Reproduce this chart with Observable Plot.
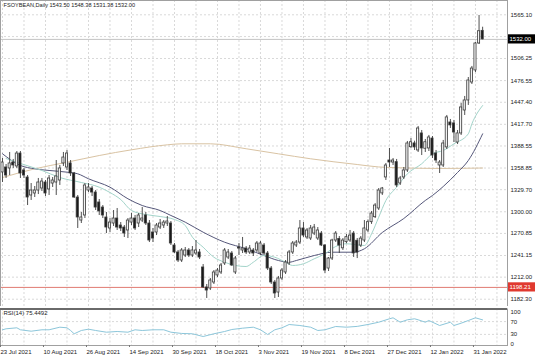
<!DOCTYPE html>
<html><head><meta charset="utf-8">
<script src="https://cdn.jsdelivr.net/npm/d3@7"></script>
<script src="https://cdn.jsdelivr.net/npm/@observablehq/plot@0.6"></script>
<style>
body{margin:0;background:#fff;}
#wrap{position:relative;width:536px;height:357px;overflow:hidden;background:#fff;}
#main{position:absolute;left:0;top:0;}
#rsi{position:absolute;left:0;top:306px;}
</style></head><body><div id="wrap"><div id="main"></div><div id="rsi"></div></div>
<script>
const titleText = "FSOYBEAN,Daily 1543.50 1548.38 1531.38 1532.00";
const rsiTitle = "RSI(14) 75.4492";

const open = [
1352.9,1359.6,1358.3,1366.3,1361.0,1378.4,1355.6,1346.1,1321.9,1324.6,
1328.6,1331.3,1339.4,1330.0,1338.0,1339.4,1342.1,1365.0,1359.6,1365.0,
1351.5,1319.2,1288.2,1295.0,1328.6,1331.3,1325.9,1312.5,1305.7,1292.3,
1277.5,1284.2,1290.9,1281.5,1278.8,1274.8,1285.5,1290.9,1284.2,1288.2,
1295.0,1284.2,1272.1,1272.1,1278.8,1281.5,1284.2,
1284.2,1254.6,1245.2,1234.4,1241.1,1247.9,1241.1,1243.8,1245.2,1225.0,
1198.1,1196.7,1204.8,1214.3,1218.3,1230.4,1238.4,1243.8,1218.3,1251.9,
1247.9,1250.5,1245.2,1247.9,1247.9,1243.8,1254.6,1243.8,1223.6,1204.8,
1191.3,1210.2,1218.3,1230.4,1245.2,1254.6,1258.6,1277.5,1265.4,1264.0,
1270.7,1264.0,1270.7,1254.6,1223.6,1237.1,
1261.3,1263.5,1250.8,1259.1,1261.3,1270.7,1261.0,1254.5,1261.3,1274.8,
1286.0,1292.7,1304.4,1324.7,1346.2,1369.0,1366.3,1366.8,1338.1,1346.2,
1355.6,1386.9,1392.0,1382.5,1405.4,1384.8,1385.2,1398.6,1378.4,1362.3,
1362.3,1386.6,1420.2,1418.9,1393.2,1405.4,1436.3,1449.8,1474.0,1490.2,
1526.5,1543.5];
const high = [
1371.7,1363.6,1379.8,1370.4,1381.1,1381.1,1358.3,1348.8,1338.0,1334.0,
1344.8,1344.8,1342.1,1348.8,1346.1,1369.0,1362.3,1379.8,1382.5,1369.0,
1352.9,1321.9,1299.0,1338.0,1338.0,1334.0,1328.6,1316.5,1308.4,1299.0,
1290.9,1301.7,1304.4,1285.5,1281.5,1290.9,1297.7,1295.0,1297.7,1305.7,
1299.0,1288.2,1277.5,1284.2,1289.6,1288.2,1293.6,
1286.9,1257.3,1247.9,1250.5,1251.9,1250.5,1253.2,1261.3,1249.2,1229.0,
1202.1,1210.2,1220.9,1223.6,1230.4,1250.5,1249.2,1246.5,1239.8,1257.3,
1265.4,1253.2,1254.6,1250.5,1260.0,1260.0,1257.3,1246.5,1226.3,1207.5,
1212.9,1223.6,1234.4,1247.9,1260.0,1261.3,1288.2,1285.5,1277.5,1281.5,
1282.9,1278.8,1273.4,1255.9,1238.4,1263.0,
1273.4,1266.7,1264.0,1269.4,1274.8,1273.4,1264.0,1266.7,1288.2,1289.0,
1300.4,1311.0,1331.3,1332.7,1365.0,1385.2,1371.7,1370.4,1347.5,1359.6,
1394.6,1398.6,1395.0,1414.8,1409.4,1397.3,1402.7,1401.3,1382.5,1369.0,
1396.0,1429.6,1424.2,1422.9,1409.4,1445.8,1455.2,1480.7,1495.6,1527.8,
1564.2,1548.4];
const low = [
1339.4,1344.8,1348.8,1358.3,1358.3,1344.8,1344.8,1308.4,1315.2,1319.2,
1323.2,1327.3,1320.5,1321.9,1332.7,1321.9,1335.4,1361.0,1355.6,1347.5,
1317.9,1277.5,1284.2,1290.9,1325.9,1320.5,1301.7,1295.0,1290.9,1270.7,
1272.1,1280.2,1274.8,1273.4,1265.4,1264.0,1281.5,1274.8,1278.8,1285.5,
1281.5,1258.6,1258.6,1268.0,1276.1,1277.5,1280.2,
1254.6,1243.8,1231.7,1231.7,1238.4,1238.4,1238.4,1241.1,1235.7,1196.7,
1183.3,1194.0,1202.1,1211.5,1215.6,1227.7,1235.7,1226.3,1215.6,1241.1,
1243.8,1242.5,1242.5,1239.8,1245.2,1241.1,1241.1,1220.9,1202.1,1183.3,
1184.6,1207.5,1215.6,1227.7,1242.5,1251.9,1255.9,1265.4,1262.7,1261.3,
1268.0,1261.3,1253.2,1217.0,1219.6,1234.4,
1258.6,1243.9,1247.9,1256.9,1258.6,1238.5,1237.0,1251.9,1258.6,1272.0,
1283.0,1290.9,1301.7,1322.0,1342.1,1359.6,1362.3,1332.7,1335.4,1343.4,
1352.9,1385.2,1382.5,1379.8,1375.7,1379.8,1381.1,1371.7,1365.0,1351.5,
1359.6,1383.8,1412.1,1393.2,1390.5,1402.7,1429.6,1443.1,1471.3,1487.4,
1525.1,1531.4];
const close = [
1366.3,1348.8,1365.0,1362.3,1378.4,1351.5,1348.8,1319.2,1328.6,1328.6,
1339.4,1340.7,1324.6,1344.8,1342.1,1347.5,1358.3,1373.0,1378.4,1351.5,
1319.2,1292.3,1292.3,1335.4,1332.7,1325.9,1305.7,1300.4,1295.0,1278.8,
1285.5,1290.9,1278.8,1277.5,1270.7,1288.2,1290.9,1277.5,1295.0,1290.9,
1284.2,1261.3,1264.0,1281.5,1284.2,1285.5,1286.9,
1257.3,1245.2,1234.4,1247.9,1247.9,1241.1,1247.9,1247.9,1238.4,1198.1,
1194.0,1207.5,1218.3,1220.9,1227.7,1247.9,1245.2,1227.7,1237.1,1250.5,
1250.5,1245.2,1250.5,1243.8,1257.3,1257.3,1243.8,1223.6,1204.8,1190.0,
1210.2,1220.9,1231.7,1245.2,1257.3,1258.6,1277.5,1268.0,1274.8,1277.5,
1278.8,1274.8,1254.6,1220.9,1237.1,1261.3,
1270.7,1254.5,1261.3,1265.8,1268.0,1243.9,1245.0,1263.9,1277.5,1286.0,
1297.6,1308.4,1328.6,1331.3,1362.3,1366.3,1369.0,1335.4,1344.8,1355.6,
1391.9,1393.6,1386.6,1412.1,1385.2,1393.6,1400.0,1375.7,1369.0,1366.3,
1391.9,1427.0,1416.2,1406.7,1405.4,1440.4,1449.8,1476.7,1492.8,1526.5,
1543.0,1532.0];

// moving averages (bar index, price)
const maLongBars = [0,9,18,27,36,46,50,58,68,77,86,99,105,111,122,134];
const maLongVals = [1346.1,1357.8,1366.7,1375.7,1383.4,1390.1,1391.5,1391.5,1384.8,1378.0,1371.3,1363.6,1360.3,1359.2,1358.3,1358.9];
const maSlowBars = [0,5,9,13,18,21,24,30,35,39,44,47,51,56,62,68,73,77,80,82,87,92,98,101,106,112,118,120,123,127,130,134];
const maSlowVals = [1378.0,1362.3,1357.8,1355.6,1353.3,1351.1,1344.4,1333.1,1317.5,1308.4,1301.7,1295.0,1286.0,1272.5,1259.0,1250.2,1241.1,1234.4,1232.1,1234.4,1241.1,1245.6,1245.6,1250.2,1272.1,1290.9,1315.2,1321.9,1334.0,1352.9,1369.0,1404.9];
const maFastBars = [1,5,11,16,22,27,30,33,36,40,44,48,51,53,56,59,62,65,68,70,73,76,79,81,84,87,90,93,96,101,103,105,107,110,113,117,120,123,126,130,131,134];
const maFastVals = [1371.7,1365.0,1355.6,1346.1,1339.4,1333.1,1325.9,1316.5,1301.7,1296.3,1293.6,1289.6,1281.5,1265.8,1252.3,1238.8,1232.1,1227.7,1226.3,1232.1,1241.1,1238.8,1232.1,1227.7,1230.0,1236.7,1243.5,1253.3,1256.9,1254.6,1270.3,1292.7,1315.2,1333.1,1351.1,1364.6,1378.0,1382.5,1391.5,1404.9,1418.3,1443.0];

const rsiBars = [0,1,4,5,8,11,13,16,18,19,20,22,24,26,29,32,35,37,39,42,45,47,50,53,56,59,62,64,67,70,72,74,76,78,80,83,86,88,90,93,96,99,102,105,108,109,111,113,115,116,118,119,122,125,126,128,130,132,134];
const rsiVals = [44.4,47.5,50.6,44.4,40.0,44.4,44.4,52.5,50.6,42.2,31.9,42.2,46.3,42.2,36.9,39.1,36.9,44.4,42.2,44.4,44.4,36.9,33.0,31.9,23.4,31.9,39.1,45.3,49.4,52.5,44.4,29.7,44.4,50.6,60.9,57.8,52.5,42.2,44.4,54.7,52.5,55.0,60.9,68.1,78.8,81.9,68.1,75.6,78.8,75.6,68.1,73.4,57.8,68.1,57.8,65.0,73.4,81.9,75.4];

const dateTickBars = [0,12,24,36,48,60,72,84,96,108,120,132];
const dateTickLabels = ["23 Jul 2021","10 Aug 2021","26 Aug 2021","14 Sep 2021","30 Sep 2021","18 Oct 2021","3 Nov 2021","19 Nov 2021","8 Dec 2021","27 Dec 2021","12 Jan 2022","31 Jan 2022"];
const priceGrid = [1565.10,1535.80,1506.25,1476.55,1447.40,1417.70,1388.55,1358.85,1329.70,1300.00,1270.85,1241.15,1212.00,1182.30];
const priceLabels = [1565.10,1506.25,1476.55,1447.40,1417.70,1388.55,1358.85,1329.70,1300.00,1270.85,1241.15,1212.00,1182.30];
const rsiTicks = [0,30,70,100];
const rsiLevels = [30,70];
const lastPrice = 1532.00;
const levelPrice = 1198.21;

const FONT = '"Liberation Sans", Arial, sans-serif';
const bars = open.map((o,i)=>({i, o, h: high[i], l: low[i], c: close[i], up: close[i] >= o}));
const pts = (xs, ys) => xs.map((x,k)=>({x, y: ys[k]}));
const xDomain = [-0.558, 140.94];
const barPx = 507/(xDomain[1]-xDomain[0]);
const yDomain = [1172.5, 1584.35];
const pricePx = 306/(yDomain[1]-yDomain[0]);
const rsiDomain = [-4.7, 109.4];
const gridBars = d3.range(0, 141, 6);
const grid = {stroke:"#d9d9d9", strokeDasharray:"2,2", strokeWidth:1};
const boxX1 = xDomain[1], boxX2 = xDomain[1] + 28/barPx, boxTextX = xDomain[1] + 2/barPx;
const boxH = 4.6/pricePx;

const main = Plot.plot({
  width:536, height:306, marginLeft:0, marginRight:29, marginTop:0, marginBottom:0,
  x:{type:"linear", domain:xDomain, axis:null},
  y:{domain:yDomain},
  style:{fontFamily:FONT, background:"transparent", color:"#111"},
  marks:[
    Plot.ruleX(gridBars, {x:d=>d, ...grid}),
    Plot.ruleY(priceGrid, {y:d=>d, ...grid}),
    Plot.ruleY([lastPrice], {y:d=>d, stroke:"#c4c4c4"}),
    Plot.ruleY([levelPrice], {y:d=>d, stroke:"#e07a72"}),
    Plot.line(pts(maLongBars, maLongVals), {x:"x", y:"y", stroke:"#d9c3a3", strokeWidth:1, curve:"monotone-x"}),
    Plot.line(pts(maSlowBars, maSlowVals), {x:"x", y:"y", stroke:"#55577a", strokeWidth:1, curve:"monotone-x"}),
    Plot.line(pts(maFastBars, maFastVals), {x:"x", y:"y", stroke:"#a3d4ca", strokeWidth:1, curve:"monotone-x"}),
    Plot.ruleX(bars, {x:"i", y1:"l", y2:"h", stroke:"#3c3c3c", strokeWidth:0.9}),
    Plot.rect(bars, {x1:d=>d.i-0.3, x2:d=>d.i+0.3, y1:"o", y2:"c", fill:d=>d.up?"#f4f4f4":"#1a1a1a", stroke:"#3c3c3c", strokeWidth:0.8}),
    Plot.axisY(priceLabels, {anchor:"right", label:null, tickSize:0, tickPadding:3, tickFormat:d=>d.toFixed(2), fontSize:6, fill:"#222"}),
    Plot.rect([lastPrice], {x1:boxX1, x2:boxX2, y1:d=>d-boxH, y2:d=>d+boxH, fill:"#000"}),
    Plot.text([lastPrice], {x:boxTextX, y:d=>d, text:d=>d.toFixed(2), fill:"#fff", textAnchor:"start", fontSize:6}),
    Plot.rect([levelPrice], {x1:boxX1, x2:boxX2, y1:d=>d-boxH, y2:d=>d+boxH, fill:"#e0392f"}),
    Plot.text([levelPrice], {x:boxTextX, y:d=>d, text:d=>d.toFixed(2), fill:"#fff", textAnchor:"start", fontSize:6}),
    Plot.frame({stroke:"#a0a0a0"}),
    Plot.text([titleText], {frameAnchor:"top-left", dx:3, dy:3, lineAnchor:"top", textAnchor:"start", fontSize:5.6, fill:"#222", text:d=>d})
  ]
});
document.getElementById("main").appendChild(main);

const rsiPlot = Plot.plot({
  width:536, height:51, marginLeft:0, marginRight:29, marginTop:2.5, marginBottom:12,
  x:{type:"linear", domain:xDomain, label:null},
  y:{domain:rsiDomain, label:null},
  style:{fontFamily:FONT, background:"transparent", color:"#111"},
  marks:[
    Plot.ruleX(gridBars, {x:d=>d, ...grid}),
    Plot.ruleY(rsiLevels, {y:d=>d, ...grid}),
    Plot.line(pts(rsiBars, rsiVals), {x:"x", y:"y", stroke:"#8cc6da", strokeWidth:1}),
    Plot.frame({stroke:"#a0a0a0"}),
    Plot.ruleY([rsiDomain[1]], {y:d=>d, stroke:"#6a6a6a", strokeWidth:2}),
    Plot.axisY(rsiTicks, {anchor:"right", label:null, tickSize:0, tickPadding:3, tickFormat:d=>String(d), fontSize:6, fill:"#222"}),
    Plot.axisX(dateTickBars, {anchor:"bottom", label:null, tickSize:2, tickPadding:2.5, tickFormat:d=>dateTickLabels[dateTickBars.indexOf(d)], textAnchor:"start", dx:-2, fontSize:6, fill:"#222", stroke:"#777"}),
    Plot.text([rsiTitle], {frameAnchor:"top-left", dx:3, dy:2, lineAnchor:"top", textAnchor:"start", fontSize:6, fill:"#222", text:d=>d})
  ]
});
document.getElementById("rsi").appendChild(rsiPlot);
</script></body></html>
